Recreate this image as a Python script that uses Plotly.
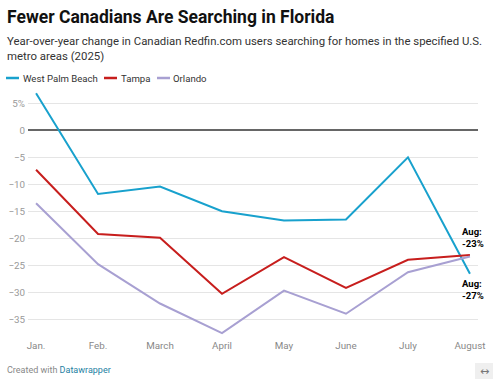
import plotly.graph_objects as go

months = ["Jan.", "Feb.", "March", "April", "May", "June", "July", "August"]
west_palm_beach = [6.9, -11.8, -10.4, -15.0, -16.7, -16.5, -5.0, -26.6]
tampa = [-7.3, -19.2, -19.9, -30.3, -23.5, -29.2, -24.0, -23.1]
orlando = [-13.5, -24.8, -32.1, -37.6, -29.7, -34.0, -26.3, -23.4]

series_names = ["West Palm Beach", "Tampa", "Orlando"]
colors = ["#18a1cd", "#c71e1d", "#a8a0d2"]

ytick_vals = [5, 0, -5, -10, -15, -20, -25, -30, -35]
ytick_text = ["5%", "0", "\u22125", "\u221210", "\u221215", "\u221220", "\u221225", "\u221230", "\u221235"]

W, H = 493, 379
L, R, T, B = 28, 15, 90, 41
FONT = "Roboto"

fig = go.Figure()
for name, vals, col in zip(series_names, [west_palm_beach, tampa, orlando], colors):
    fig.add_trace(go.Scatter(x=months, y=vals, mode="lines", name=name,
                             line=dict(color=col, width=2), showlegend=False,
                             hoverinfo="skip"))

def px_x(p):
    return (p - L) / (W - L - R)

def px_y(p):
    return 1 - (p - T) / (H - T - B)

shapes = []
annotations = []

# title, subtitle
annotations.append(dict(text="<b>Fewer Canadians Are Searching in Florida</b>", x=px_x(5), y=px_y(17),
                        xref="paper", yref="paper", xanchor="left", yanchor="middle", showarrow=False,
                        font=dict(family=FONT, size=17.5, color="#111")))
annotations.append(dict(text="Year-over-year change in Canadian Redfin.com users searching for homes in the specified U.S.<br>metro areas (2025)",
                        x=px_x(5), y=px_y(48.5), xref="paper", yref="paper", xanchor="left", yanchor="middle",
                        align="left", showarrow=False, font=dict(family=FONT, size=11.4, color="#333")))

# legend
legend_items = [(6, 22), (104, 120), (157, 172)]
for (sx, tx), name, col in zip(legend_items, series_names, colors):
    shapes.append(dict(type="line", xref="paper", yref="paper", x0=px_x(sx), x1=px_x(sx + 13),
                       y0=px_y(78), y1=px_y(78), line=dict(color=col, width=2.5)))
    annotations.append(dict(text=name, x=px_x(tx - 1), y=px_y(78), xref="paper", yref="paper",
                            xanchor="left", yanchor="middle", showarrow=False,
                            font=dict(family=FONT, size=9.6, color="#333")))

# end labels
annotations.append(dict(text="<b>Aug:</b><br><b>-23%</b>", x="August", y=tampa[-1], xref="x", yref="y",
                        xanchor="left", yanchor="middle", xshift=-10, yshift=17, align="left",
                        showarrow=False, font=dict(family=FONT, size=9.5, color="#000")))
annotations.append(dict(text="<b>Aug:</b><br><b>-27%</b>", x="August", y=west_palm_beach[-1], xref="x", yref="y",
                        xanchor="left", yanchor="middle", xshift=-10, yshift=-16, align="left",
                        showarrow=False, font=dict(family=FONT, size=9.5, color="#000")))

# footer
annotations.append(dict(text="Created with <span style='color:#1d81a2'>Datawrapper</span>", x=px_x(5), y=px_y(370),
                        xref="paper", yref="paper", xanchor="left", yanchor="middle", showarrow=False,
                        font=dict(family=FONT, size=9, color="#888")))
shapes.append(dict(type="rect", xref="paper", yref="paper", x0=px_x(475), x1=px_x(493),
                   y0=px_y(363), y1=px_y(379), fillcolor="#efefef", line=dict(width=0)))
annotations.append(dict(text="\u2194", x=px_x(484), y=px_y(371), xref="paper", yref="paper",
                        xanchor="center", yanchor="middle", showarrow=False,
                        font=dict(family="DejaVu Sans", size=11, color="#777")))

fig.update_layout(
    width=W, height=H, margin=dict(l=L, r=R, t=T, b=B, autoexpand=False),
    paper_bgcolor="white", plot_bgcolor="white",
    font=dict(family=FONT),
    xaxis=dict(range=[-0.13, 7.13], showgrid=False, zeroline=False, showline=False, ticks="",
               tickfont=dict(family=FONT, size=9.8, color="#888"), fixedrange=True, automargin=False),
    yaxis=dict(range=[-38.5, 7.5], tickvals=ytick_vals, ticktext=ytick_text, showgrid=True,
               gridcolor="#e5e5e5", gridwidth=1, zeroline=True, zerolinecolor="#666", zerolinewidth=1.5,
               showline=False, ticks="",
               tickfont=dict(family=FONT, size=9.8, color="#999"), ticklabelstandoff=2,
               fixedrange=True, automargin=False),
    shapes=shapes, annotations=annotations, showlegend=False,
)

fig.write_html("out.html", config={"displayModeBar": False},
               post_script="document.body.style.margin='0';document.body.style.overflow='hidden';")
